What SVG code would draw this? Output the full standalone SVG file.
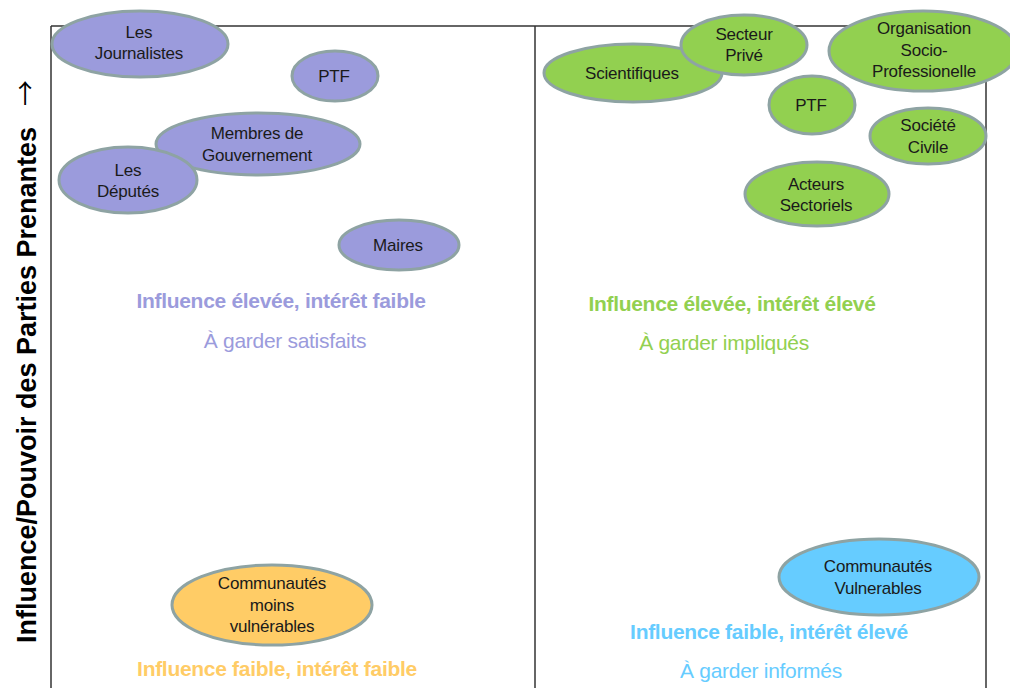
<svg xmlns="http://www.w3.org/2000/svg" width="1010" height="688" viewBox="0 0 1010 688">
  <style>
    .grid { stroke: #333; stroke-width: 1.5; fill: none; }
    .node ellipse { stroke: #8ea3a3; stroke-width: 3; }
    .node text { font-family: "Liberation Sans", Arial, sans-serif; font-size: 17px; fill: #1a1a1a; text-anchor: middle; letter-spacing: -0.2px; }
    .purple ellipse { fill: #9b9bdc; }
    .green ellipse { fill: #92d050; }
    .orange ellipse { fill: #ffcc66; }
    .blue ellipse { fill: #66ccff; }
    .qtitle { font-family: "Liberation Sans", Arial, sans-serif; font-size: 21px; font-weight: bold; text-anchor: middle; letter-spacing: -0.3px; }
    .qsub { font-family: "Liberation Sans", Arial, sans-serif; font-size: 21px; text-anchor: middle; letter-spacing: -0.3px; }
    .axis { font-family: "Liberation Sans", Arial, sans-serif; font-size: 27px; font-weight: bold; fill: #000; text-anchor: middle; }
    .axis-arrow { font-family: "Noto Sans CJK SC", "DejaVu Sans", sans-serif; font-size: 26px; fill: #000; text-anchor: middle; }
  </style>
  <defs>
    <linearGradient id="midline" x1="0" y1="0" x2="1" y2="0">
      <stop offset="0" stop-color="#444"/>
      <stop offset="0.3" stop-color="#aaa"/>
      <stop offset="0.6" stop-color="#555"/>
      <stop offset="1" stop-color="#666"/>
    </linearGradient>
  </defs>
  <rect width="1010" height="688" fill="#fff"/>

  <!-- quadrant grid -->
  <g id="grid">
    <line class="grid" x1="51" y1="26" x2="986" y2="26"/>
    <line class="grid" x1="51" y1="26" x2="51" y2="688"/>
    <line class="grid" x1="535" y1="26" x2="535" y2="688"/>
    <line class="grid" x1="986" y1="26" x2="986" y2="688"/>
    <line x1="51" y1="358" x2="986" y2="358" stroke="url(#midline)" stroke-width="1.5"/>
  </g>

  <!-- vertical axis title -->
  <g id="axis-title">
    <text class="axis" transform="translate(36,385) rotate(-90)">Influence/Pouvoir des Parties Prenantes</text>
    <text class="axis-arrow" transform="translate(35,93) rotate(-90)">→</text>
  </g>

  <!-- quadrant captions -->
  <g id="q-high-low">
    <text class="qtitle" x="281" y="308" fill="#9b9bdc">Influence élevée, intérêt faible</text>
    <text class="qsub" x="285" y="348" fill="#9b9bdc">À garder satisfaits</text>
  </g>
  <g id="q-high-high">
    <text class="qtitle" x="732" y="311" fill="#92d050">Influence élevée, intérêt élevé</text>
    <text class="qsub" x="724" y="350" fill="#92d050">À garder impliqués</text>
  </g>
  <g id="q-low-low">
    <text class="qtitle" x="277" y="676" fill="#ffcc66">Influence faible, intérêt faible</text>
  </g>
  <g id="q-low-high">
    <text class="qtitle" x="769" y="639" fill="#66ccff">Influence faible, intérêt élevé</text>
    <text class="qsub" x="761" y="678" fill="#66ccff">À garder informés</text>
  </g>

  <!-- stakeholders: high influence, low interest -->
  <g id="journalistes" class="node purple">
    <ellipse cx="140" cy="44" rx="88" ry="33"/>
    <text x="139" y="38">Les</text>
    <text x="139" y="59">Journalistes</text>
  </g>
  <g id="ptf-left" class="node purple">
    <ellipse cx="335" cy="76" rx="43" ry="25"/>
    <text x="334" y="82">PTF</text>
  </g>
  <g id="gouvernement" class="node purple">
    <ellipse cx="258" cy="144" rx="102" ry="31"/>
    <text x="257" y="139">Membres de</text>
    <text x="257" y="161">Gouvernement</text>
  </g>
  <g id="deputes" class="node purple">
    <ellipse cx="128" cy="180" rx="69" ry="33"/>
    <text x="128" y="176">Les</text>
    <text x="128" y="197">Députés</text>
  </g>
  <g id="maires" class="node purple">
    <ellipse cx="399" cy="245" rx="60" ry="25"/>
    <text x="398" y="251">Maires</text>
  </g>

  <!-- stakeholders: high influence, high interest -->
  <g id="scientifiques" class="node green">
    <ellipse cx="633" cy="73" rx="89" ry="29"/>
    <text x="632" y="79">Scientifiques</text>
  </g>
  <g id="secteur-prive" class="node green">
    <ellipse cx="744" cy="45" rx="63" ry="30"/>
    <text x="744" y="40">Secteur</text>
    <text x="744" y="61">Privé</text>
  </g>
  <g id="organisation" class="node green">
    <ellipse cx="923" cy="51" rx="94" ry="40"/>
    <text x="924" y="34">Organisation</text>
    <text x="924" y="56">Socio-</text>
    <text x="924" y="77">Professionelle</text>
  </g>
  <g id="ptf-right" class="node green">
    <ellipse cx="812" cy="105" rx="43" ry="29"/>
    <text x="811" y="111">PTF</text>
  </g>
  <g id="societe-civile" class="node green">
    <ellipse cx="928" cy="136" rx="58" ry="28"/>
    <text x="928" y="131">Société</text>
    <text x="928" y="153">Civile</text>
  </g>
  <g id="acteurs-sectoriels" class="node green">
    <ellipse cx="817" cy="194" rx="72" ry="32"/>
    <text x="816" y="190">Acteurs</text>
    <text x="816" y="211">Sectoriels</text>
  </g>

  <!-- stakeholders: low influence -->
  <g id="communautes-moins" class="node orange">
    <ellipse cx="272" cy="605" rx="100" ry="40"/>
    <text x="272" y="589">Communautés</text>
    <text x="272" y="611">moins</text>
    <text x="272" y="632">vulnérables</text>
  </g>
  <g id="communautes-vulnerables" class="node blue">
    <ellipse cx="879" cy="577" rx="100" ry="38"/>
    <text x="878" y="572">Communautés</text>
    <text x="878" y="594">Vulnerables</text>
  </g>
</svg>
